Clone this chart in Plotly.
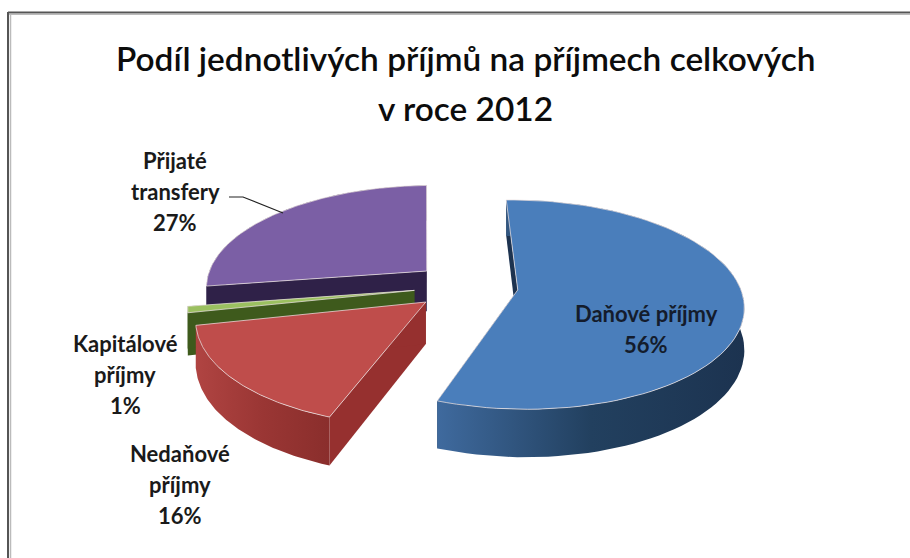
import numpy as np
import plotly.graph_objects as go

# Share of each income type in total income, drawn clockwise from the start angle
categories = ["Daňové příjmy", "Nedaňové příjmy", "Kapitálové příjmy", "Přijaté transfery"]
values = [56, 16, 1, 27]

title_lines = ["Podíl jednotlivých příjmů na příjmech celkových", "v roce 2012"]
label_lines = {
    "Daňové příjmy": ["Daňové příjmy", "56%"],
    "Nedaňové příjmy": ["Nedaňové", "příjmy", "16%"],
    "Kapitálové příjmy": ["Kapitálové", "příjmy", "1%"],
    "Přijaté transfery": ["Přijaté", "transfery", "27%"],
}
label_anchor = {
    "Daňové příjmy": (646, 313),
    "Nedaňové příjmy": (180, 453),
    "Kapitálové příjmy": (125, 343),
    "Přijaté transfery": (175, 160),
}
LINE_GAP = 31

# Colours per slice: top face, inner wall, rim wall gradient
top_col = {"Daňové příjmy": "#4a7ebb", "Nedaňové příjmy": "#bf4d4b",
           "Kapitálové příjmy": "#9bc060", "Přijaté transfery": "#7b5fa5"}
inner_col = {"Daňové příjmy": "#1d3350", "Nedaňové příjmy": "#96302f",
             "Kapitálové příjmy": "#3e5a1c", "Přijaté transfery": "#2f2148"}
rim_col = {"Daňové příjmy": ["#3f6a9e", "#22405f", "#1c3350"],
           "Nedaňové příjmy": ["#b04442", "#9a3634", "#8a2e2c"],
           "Kapitálové příjmy": ["#3e5a1c", "#3e5a1c", "#3e5a1c"],
           "Přijaté transfery": ["#2f2148", "#2f2148", "#2f2148"]}
draw_order = ["Přijaté transfery", "Kapitálové příjmy", "Nedaňové příjmy", "Daňové příjmy"]

# Pie geometry in screen units: centre, projected radii, perspective, explode, thickness
CX, CY = 466, 286
AX, BY = 222, 101.5
PERSP = 0.14
EXPLODE = 0.235
DEPTH = 41
START_DEG = -1.5


def project(px, py):
    w = 1 + PERSP * py
    return CX + AX * px / w, CY - BY * py / w, w


fig = go.Figure()
shares = np.array(values, dtype=float) / sum(values)
edges = START_DEG + 360 * np.concatenate([[0], np.cumsum(shares)])
geom = {}
for i, name in enumerate(categories):
    a0, a1 = np.radians(edges[i]), np.radians(edges[i + 1])
    mid = (a0 + a1) / 2
    ox, oy = EXPLODE * np.sin(mid), EXPLODE * np.cos(mid)
    t = np.linspace(a0, a1, 90)
    geom[name] = (ox, oy, t)


def add_poly(xs, ys, color=None, gradient=None, line=None, lw=0):
    kw = dict(x=list(xs) + [xs[0]], y=list(ys) + [ys[0]], mode="lines", fill="toself",
              hoverinfo="skip", showlegend=False,
              line=dict(width=lw, color=line or "rgba(0,0,0,0)"))
    if gradient:
        stops = np.linspace(0, 1, len(gradient))
        kw["fillgradient"] = dict(type="horizontal",
                                  colorscale=[[float(s), c] for s, c in zip(stops, gradient)])
    else:
        kw["fillcolor"] = color
    fig.add_trace(go.Scatter(**kw))


for name in draw_order:
    ox, oy, t = geom[name]
    rx, ry = ox + np.sin(t), oy + np.cos(t)
    ex, ey, ew = project(rx, ry)
    ax_, ay_, aw = project(ox, oy)
    d_rim = DEPTH / ew
    d_a = DEPTH / aw

    # radial walls at both ends of the slice
    for k in (0, -1):
        xs = [ax_, ex[k], ex[k], ax_]
        ys = [ay_, ey[k], ey[k] + d_rim[k], ay_ + d_a]
        add_poly(xs, ys, color=inner_col[name])

    # outer rim wall
    xs = np.concatenate([ex, ex[::-1]])
    ys = np.concatenate([ey, (ey + d_rim)[::-1]])
    add_poly(xs, ys, gradient=rim_col[name])

    # top face with a pale edge
    xs = np.concatenate([[ax_], ex])
    ys = np.concatenate([[ay_], ey])
    add_poly(xs, ys, color=top_col[name], line="rgba(235,225,225,0.75)", lw=1)

annotations = []
for i, line in enumerate(title_lines):
    annotations.append(dict(x=465, y=58 + 50 * i, text=line, showarrow=False,
                            xref="x", yref="y", xanchor="center", yanchor="middle",
                            font=dict(family="Lato", size=33.4, weight=600, color="#0c0c0c")))
for name, lines in label_lines.items():
    lx, ly = label_anchor[name]
    for i, line in enumerate(lines):
        annotations.append(dict(x=lx, y=ly + LINE_GAP * i, text=line, showarrow=False,
                                xref="x", yref="y", xanchor="center", yanchor="middle",
                                font=dict(family="Lato", size=22, weight=700,
                                          color="#141c2c" if name == "Daňové příjmy" else "#1a1a1a")))

shapes = [
    # picture frame along the top and left edges
    dict(type="line", xref="x", yref="y", x0=8, x1=910, y0=12.5, y1=12.5, line=dict(color="#555555", width=2)),
    dict(type="line", xref="x", yref="y", x0=8, x1=910, y0=14.5, y1=14.5, line=dict(color="#bbbbbb", width=1)),
    dict(type="line", xref="x", yref="y", x0=8, x1=8, y0=12, y1=558, line=dict(color="#555555", width=2)),
    dict(type="line", xref="x", yref="y", x0=10.5, x1=10.5, y0=14, y1=558, line=dict(color="#bbbbbb", width=1.5)),
    # leader line for the transfers label
    dict(type="path", xref="x", yref="y", path="M 229 197 L 243 197 L 283 213",
         line=dict(color="#222222", width=1.2)),
]

fig.update_layout(
    width=910, height=558,
    margin=dict(l=0, r=0, t=0, b=0),
    paper_bgcolor="white", plot_bgcolor="white",
    xaxis=dict(range=[0, 910], visible=False, fixedrange=True),
    yaxis=dict(range=[558, 0], visible=False, fixedrange=True),
    annotations=annotations, shapes=shapes, showlegend=False,
)
fig.write_html("out.html", config=dict(displayModeBar=False))
